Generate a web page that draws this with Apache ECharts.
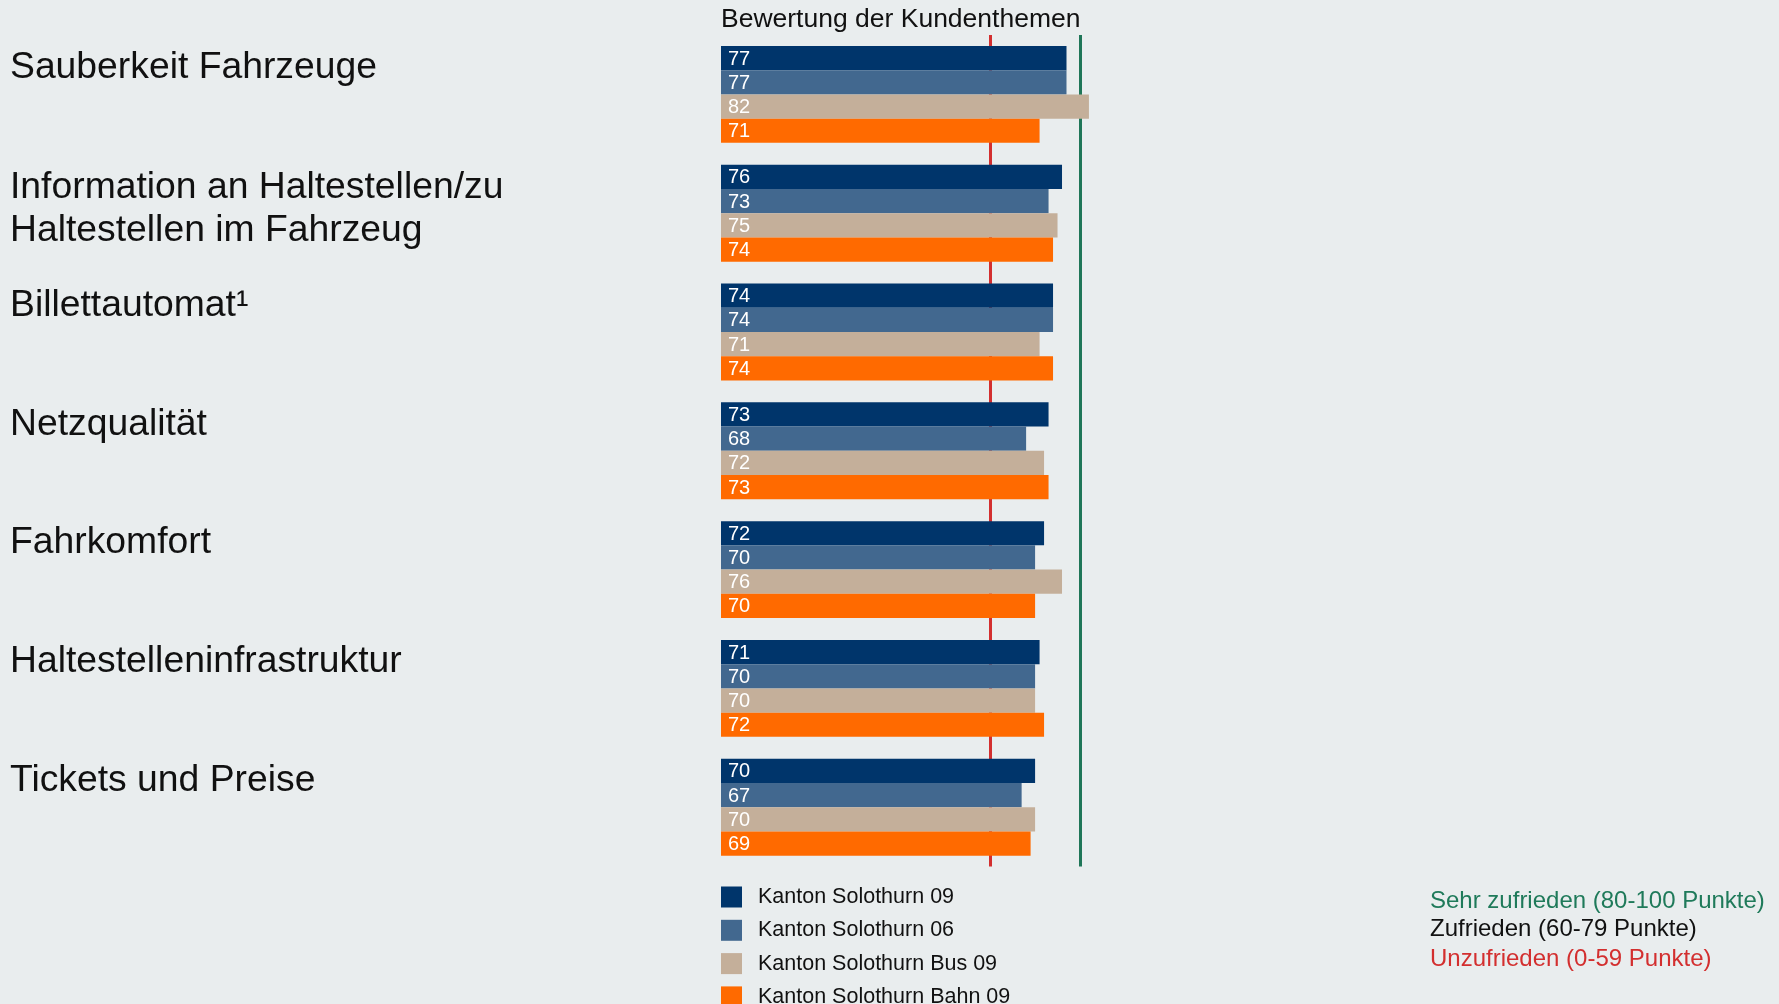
<!DOCTYPE html>
<html>
<head>
<meta charset="utf-8">
<script src="https://cdn.jsdelivr.net/npm/echarts@6/dist/echarts.min.js"></script>
<style>
  html, body { margin: 0; padding: 0; background: #E9EDEE; }
  #chart { width: 1779px; height: 1004px; }
</style>
</head>
<body>
<div id="chart"></div>
<script>
// Customer topic ratings (points 0-100)
const topics = [
  'Sauberkeit Fahrzeuge',
  'Information an Haltestellen/zu\nHaltestellen im Fahrzeug',
  'Billettautomat¹',
  'Netzqualität',
  'Fahrkomfort',
  'Haltestelleninfrastruktur',
  'Tickets und Preise'
];
const seriesNames = ['Kanton Solothurn 09', 'Kanton Solothurn 06', 'Kanton Solothurn Bus 09', 'Kanton Solothurn Bahn 09'];
const solothurn09 = [77, 76, 74, 73, 72, 71, 70];
const solothurn06 = [77, 73, 74, 68, 70, 70, 67];
const bus09 = [82, 75, 71, 72, 76, 70, 70];
const bahn09 = [71, 74, 74, 73, 70, 72, 69];
const unzufriedenLimit = 60;
const sehrZufriedenLimit = 80;

const colors = ['#00356B', '#42688F', '#C4AF9A', '#FF6A00'];
const FONT = '"Liberation Sans", Arial, sans-serif';

const chart = echarts.init(document.getElementById('chart'), null, { renderer: 'canvas' });

function barSeries(name, data, color, extra) {
  return Object.assign({
    name: name,
    type: 'bar',
    data: data,
    barGap: '0%',
    barCategoryGap: '18.4%',
    itemStyle: { color: color },
    z: 2,
    label: {
      show: true,
      position: 'insideLeft',
      distance: 7,
      color: '#FFFFFF',
      fontFamily: FONT,
      fontSize: 20,
      offset: [0, 1]
    },
    emphasis: { disabled: true }
  }, extra || {});
}

chart.setOption({
  backgroundColor: '#E9EDEE',
  animation: false,
  textStyle: { fontFamily: FONT },
  title: {
    text: 'Bewertung der Kundenthemen',
    left: 721,
    top: 6,
    padding: 0,
    textStyle: { fontFamily: FONT, fontSize: 26.5, fontWeight: 'normal', color: '#111111' }
  },
  legend: {
    orient: 'vertical',
    left: 721,
    top: 886,
    height: 300,
    padding: 0,
    itemWidth: 21,
    itemHeight: 21,
    itemGap: 11.3,
    icon: 'rect',
    selectedMode: false,
    data: seriesNames,
    textStyle: { fontFamily: FONT, fontSize: 21.5, lineHeight: 21, color: '#111111', padding: [0, 0, 0, 11] }
  },
  grid: { left: 721, top: 35, width: 448.7, height: 831.6 },
  xAxis: {
    type: 'value',
    min: 0,
    max: 100,
    show: false
  },
  yAxis: {
    type: 'category',
    data: topics,
    inverse: true,
    axisLine: { show: false },
    axisTick: { show: false },
    splitLine: { show: false },
    axisLabel: {
      align: 'left',
      verticalAlign: 'middle',
      margin: 711,
      fontFamily: FONT,
      fontSize: 37.3,
      lineHeight: 37,
      color: '#111111',
      // topics sit near the top of their bar group
      formatter: function (v) {
        const lines = v.split('\n');
        if (lines.length > 1) {
          return lines.map(function (l) { return '{m|' + l + '}'; }).join('\n') + '\n{g2| }';
        }
        return v + '\n{g| }';
      },
      rich: {
        m: { fontFamily: FONT, fontSize: 37.3, lineHeight: 43, color: '#111111' },
        g: { fontSize: 10, lineHeight: 53 },
        g2: { fontSize: 8, lineHeight: 8.6 }
      }
    }
  },
  series: [
    barSeries(seriesNames[0], solothurn09, colors[0], {
      markLine: {
        silent: true,
        symbol: 'none',
        z: 1,
        label: { show: false },
        data: [
          { xAxis: unzufriedenLimit, lineStyle: { color: '#D32F2F', width: 3, type: 'solid' } },
          { xAxis: sehrZufriedenLimit, lineStyle: { color: '#1F7658', width: 3, type: 'solid' } }
        ]
      }
    }),
    barSeries(seriesNames[1], solothurn06, colors[1]),
    barSeries(seriesNames[2], bus09, colors[2]),
    barSeries(seriesNames[3], bahn09, colors[3])
  ],
  graphic: [
    { type: 'text', left: 1430, top: 889, style: { text: 'Sehr zufrieden (80-100 Punkte)', fill: '#1F7A5A', font: '24px ' + FONT } },
    { type: 'text', left: 1430, top: 917.5, style: { text: 'Zufrieden (60-79 Punkte)', fill: '#111111', font: '24px ' + FONT } },
    { type: 'text', left: 1430, top: 947.5, style: { text: 'Unzufrieden (0-59 Punkte)', fill: '#D32F2F', font: '24px ' + FONT } }
  ]
});
</script>
</body>
</html>
